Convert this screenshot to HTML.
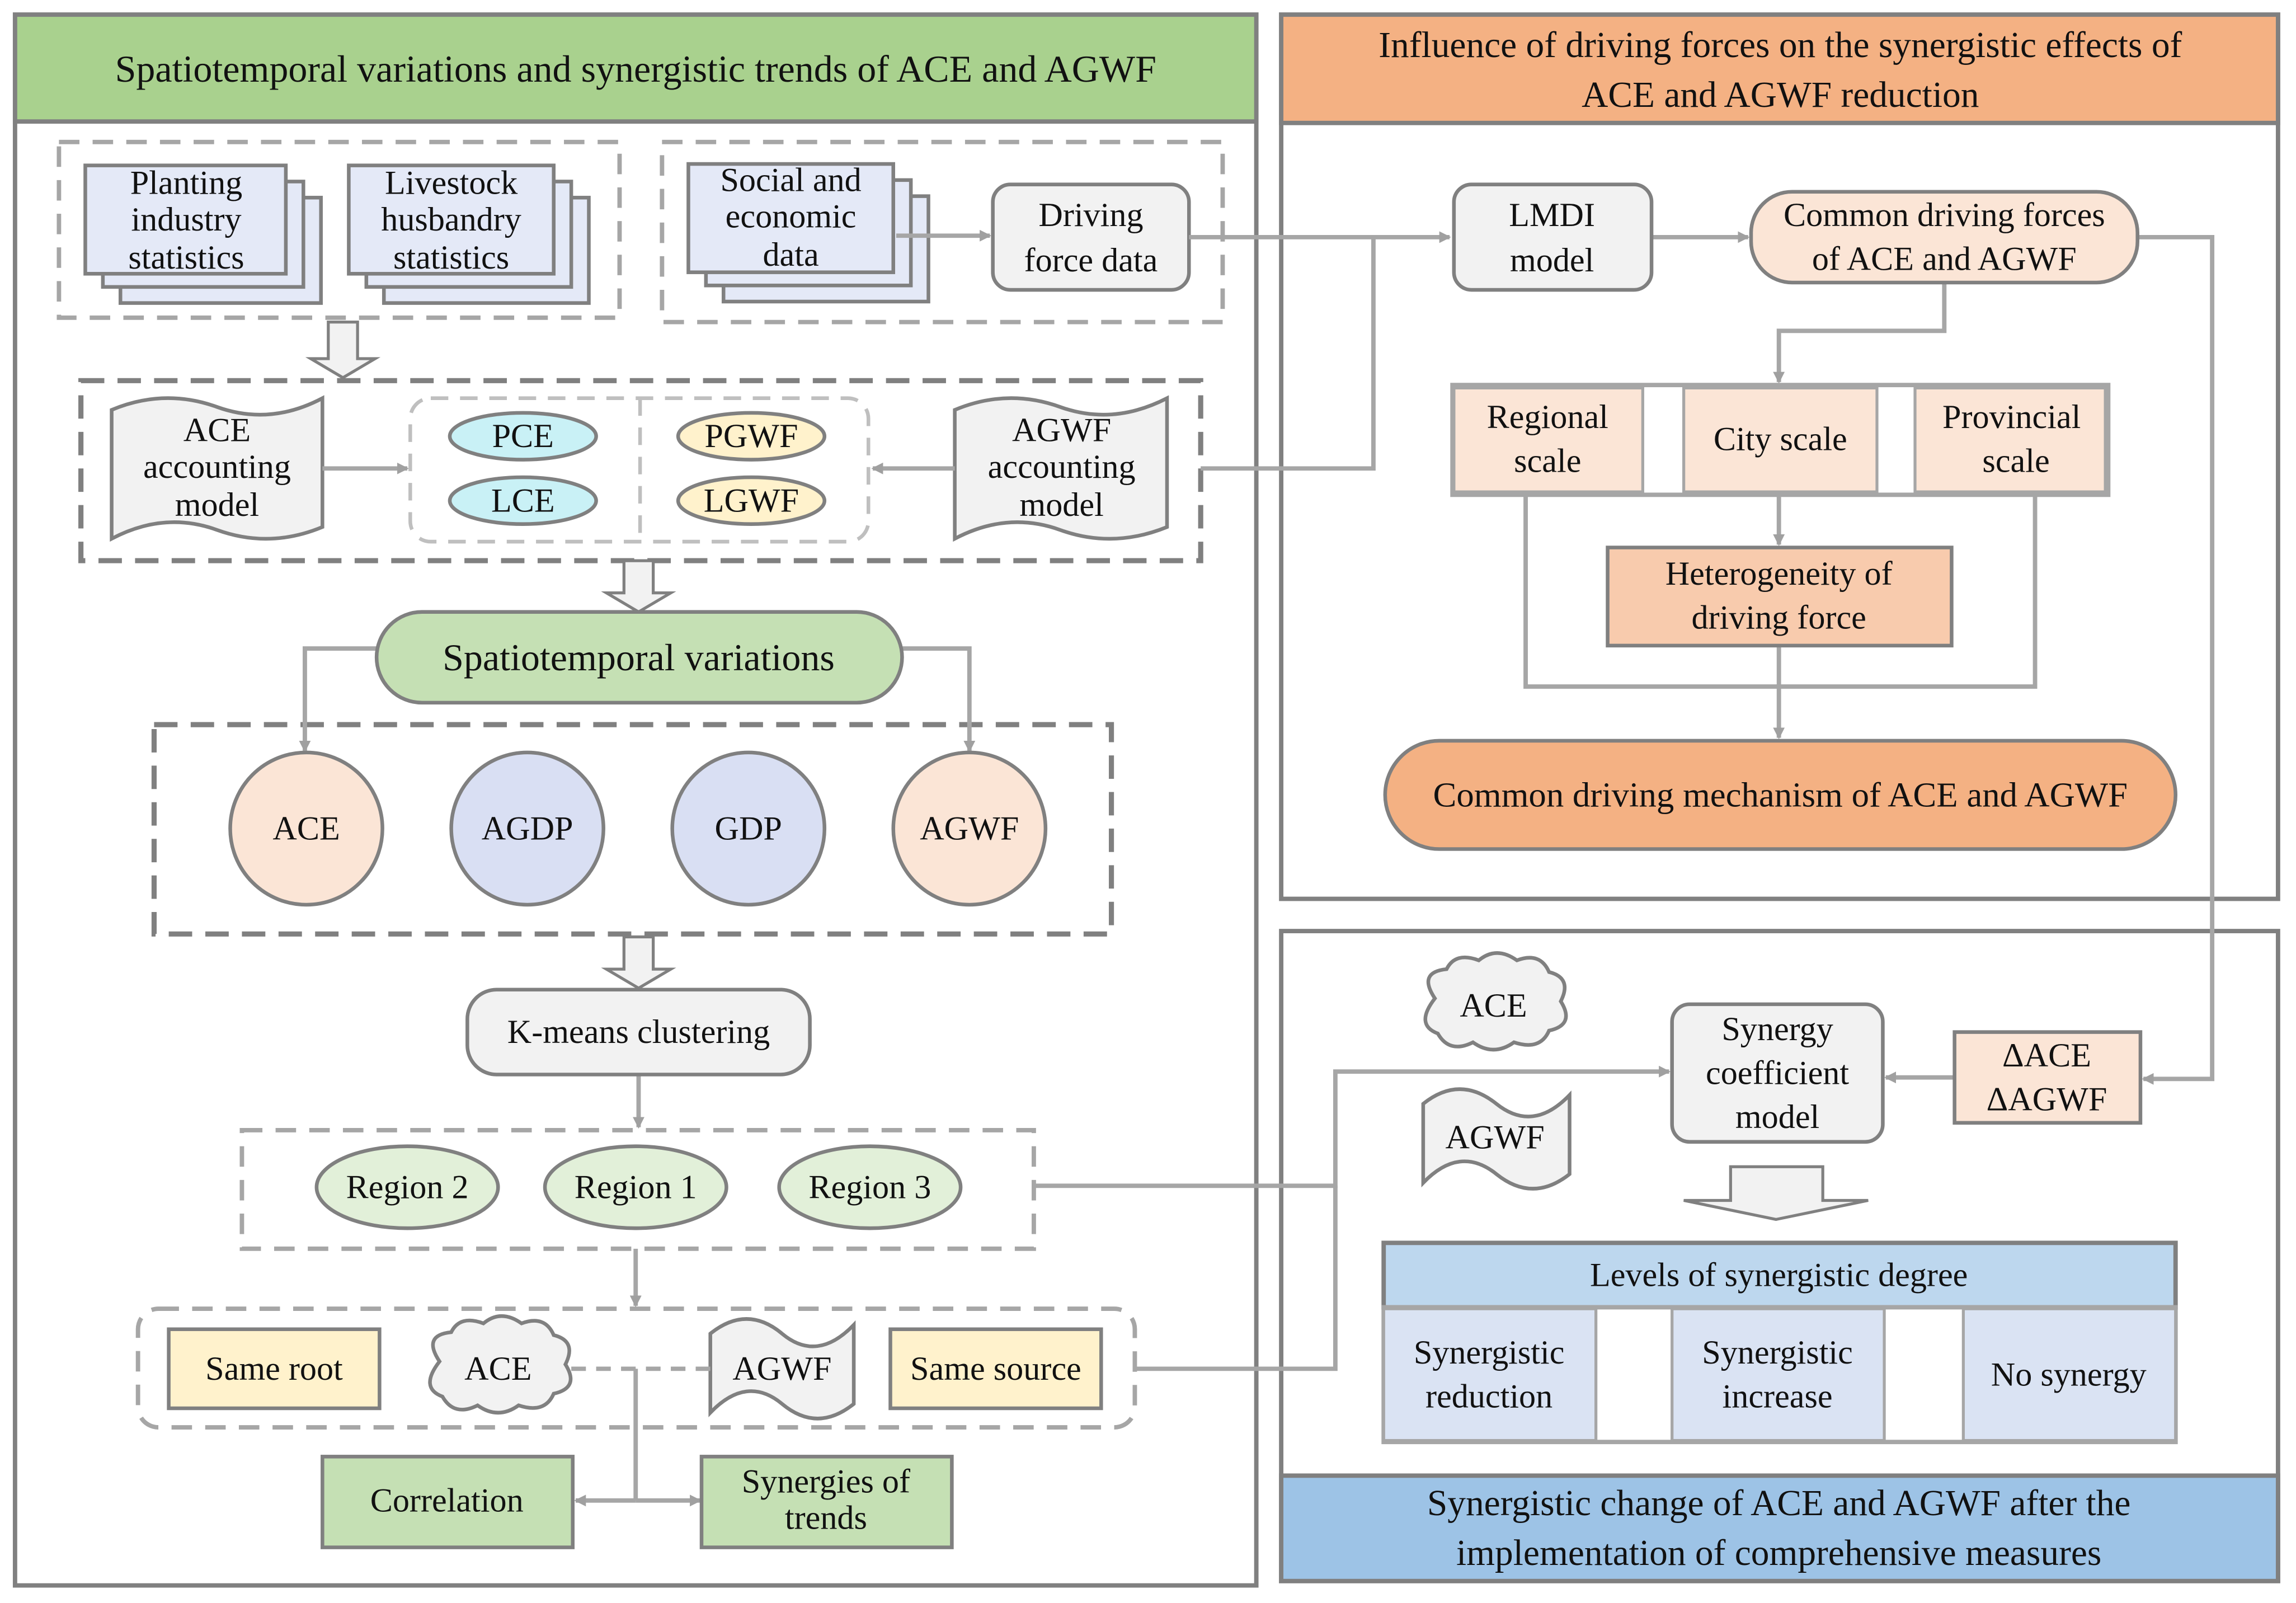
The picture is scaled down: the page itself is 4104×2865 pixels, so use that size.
<!DOCTYPE html>
<html><head><meta charset="utf-8"><style>
html,body{margin:0;padding:0;background:#fff}
svg{display:block}
svg text{font-family:"Liberation Serif","Times New Roman",serif !important;fill:#111;text-anchor:middle;dominant-baseline:central}
</style></head><body>
<svg width="4104" height="2865" viewBox="0 0 1568 1095" xmlns="http://www.w3.org/2000/svg" font-family="Liberation Serif, serif">
<defs>
<marker id="a" markerWidth="8" markerHeight="8" refX="7" refY="4" orient="auto" markerUnits="userSpaceOnUse"><path d="M0,0 L8,4 L0,8 z" fill="#a0a0a0"/></marker>
</defs>
<rect width="1568" height="1095" fill="#fff"/>
<rect x="10" y="10" width="848" height="1073" fill="#fff" stroke="#808080" stroke-width="3"/>
<rect x="10" y="10" width="848" height="73" fill="#a9d18e" stroke="#808080" stroke-width="3"/>
<text x="434" y="47" font-size="26" font-family="Liberation Serif, serif">Spatiotemporal variations and synergistic trends of ACE and AGWF</text>
<rect x="875" y="10" width="681" height="604" fill="#fff" stroke="#808080" stroke-width="3"/>
<rect x="875" y="10" width="681" height="74" fill="#f4b183" stroke="#808080" stroke-width="3"/>
<text x="1216" y="31" font-size="25" font-family="Liberation Serif, serif">Influence of driving forces on the synergistic effects of</text>
<text x="1216" y="65" font-size="25" font-family="Liberation Serif, serif">ACE and AGWF reduction</text>
<rect x="875" y="636" width="681" height="444" fill="#fff" stroke="#808080" stroke-width="3"/>
<rect x="875" y="1008" width="681" height="72" fill="#9dc3e6" stroke="#808080" stroke-width="3"/>
<text x="1215" y="1027" font-size="25" font-family="Liberation Serif, serif">Synergistic change of ACE and AGWF after the</text>
<text x="1215" y="1061" font-size="25" font-family="Liberation Serif, serif">implementation of comprehensive measures</text>

<g fill="none" stroke="#a6a6a6" stroke-width="3" stroke-dasharray="14,9">
<rect x="40" y="97" width="383" height="120"/>
<rect x="452" y="97" width="383" height="123"/>
<rect x="165" y="772" width="541" height="81"/>
<rect x="94" y="894" width="681" height="81" rx="14"/>
</g>
<g fill="none" stroke="#808080" stroke-width="3.5" stroke-dasharray="16,9">
<rect x="55" y="260" width="765" height="123"/>
<rect x="105" y="495" width="654" height="143"/>
</g>
<g fill="none" stroke="#bfbfbf" stroke-width="2.5" stroke-dasharray="12,8">
<rect x="280" y="272" width="313" height="98" rx="14"/>
<line x1="437" y1="272" x2="437" y2="370"/>
</g>

<g stroke="#808080" stroke-width="2.5" fill="#e4e9f7">
<rect x="82" y="135" width="137" height="72"/><rect x="70" y="124" width="137" height="72"/><rect x="58" y="113" width="137" height="74"/>
<rect x="262" y="135" width="140" height="72"/><rect x="250" y="124" width="140" height="72"/><rect x="238" y="113" width="140" height="74"/>
<rect x="494" y="134" width="140" height="72"/><rect x="482" y="123" width="140" height="72"/><rect x="470" y="112" width="140" height="74"/>
</g>
<g font-size="23" font-family="Liberation Serif, serif">
<text x="127" y="125">Planting</text><text x="127" y="150">industry</text><text x="127" y="176">statistics</text>
<text x="308" y="125">Livestock</text><text x="308" y="150">husbandry</text><text x="308" y="176">statistics</text>
<text x="540" y="123">Social and</text><text x="540" y="148">economic</text><text x="540" y="174">data</text>
</g>
<rect x="678" y="126" width="134" height="72" rx="12" fill="#f2f2f2" stroke="#808080" stroke-width="2.5"/>
<g font-size="23" font-family="Liberation Serif, serif"><text x="745" y="147">Driving</text><text x="745" y="178">force data</text></g>

<g fill="#f2f2f2" stroke="#808080" stroke-width="2">
<path d="M224,220 H244 V245 H256 L234,258 L212,245 H224 Z"/>
<path d="M426,383 H446 V405 H458 L436,418 L414,405 H426 Z"/>
<path d="M426,640 H446 V662 H458 L436,675 L414,662 H426 Z"/>
<path d="M1182,797 H1245 V820 H1276 L1213,833 L1150,820 H1182 Z"/>
</g>

<g fill="#f2f2f2" stroke="#808080" stroke-width="2.5">
<path d="M76,280 Q112,265 148,278 T220,272 V360 Q184,375 148,362 T76,368 Z"/>
<path d="M652,280 Q688,265 724,278 T797,272 V360 Q760,375 724,362 T652,368 Z"/>
<path d="M972,754 Q997,734 1022,754 T1072,748 V802 Q1047,822 1022,802 T972,808 Z"/>
<path d="M485,911 Q510,891 534,911 T583,905 V959 Q558,979 534,959 T485,965 Z"/>
</g>
<g font-size="23" font-family="Liberation Serif, serif">
<text x="148" y="294">ACE</text><text x="148" y="319">accounting</text><text x="148" y="345">model</text>
<text x="725" y="294">AGWF</text><text x="725" y="319">accounting</text><text x="725" y="345">model</text>
<text x="1021" y="777">AGWF</text><text x="534" y="935">AGWF</text>
</g>
<g stroke="#808080" stroke-width="2.5">
<ellipse cx="357" cy="298" rx="50" ry="16" fill="#c9f1f6"/>
<ellipse cx="357" cy="342" rx="50" ry="16" fill="#c9f1f6"/>
<ellipse cx="513" cy="298" rx="50" ry="16" fill="#fff2cc"/>
<ellipse cx="513" cy="342" rx="50" ry="16" fill="#fff2cc"/>
</g>
<g font-size="23" font-family="Liberation Serif, serif"><text x="357" y="298">PCE</text><text x="357" y="342">LCE</text><text x="513" y="298">PGWF</text><text x="513" y="342">LGWF</text></g>

<g fill="none" stroke="#a6a6a6" stroke-width="3">
<line x1="220" y1="320" x2="278" y2="320" marker-end="url(#a)"/>
<line x1="652" y1="320" x2="596" y2="320" marker-end="url(#a)"/>
<line x1="612" y1="161" x2="676" y2="161" marker-end="url(#a)"/>
<line x1="812" y1="162" x2="990" y2="162" marker-end="url(#a)"/>
<polyline points="820,320 938,320 938,162"/>
<polyline points="257,443 208,443 208,513" marker-end="url(#a)"/>
<polyline points="616,443 662,443 662,513" marker-end="url(#a)"/>
<line x1="436" y1="734" x2="436" y2="770" marker-end="url(#a)"/>
<line x1="434" y1="853" x2="434" y2="892" marker-end="url(#a)"/>
<polyline points="706,810 912,810 912,732 1140,732" marker-end="url(#a)"/>
<polyline points="775,935 912,935 912,810"/>
<line x1="434" y1="935" x2="434" y2="1025"/>
<line x1="434" y1="1025" x2="393" y2="1025" marker-end="url(#a)"/>
<line x1="434" y1="1025" x2="478" y2="1025" marker-end="url(#a)"/>
<line x1="1128" y1="162" x2="1194" y2="162" marker-end="url(#a)"/>
<polyline points="1460,162 1511,162 1511,737 1464,737" marker-end="url(#a)"/>
<line x1="1335" y1="736" x2="1288" y2="736" marker-end="url(#a)"/>
<polyline points="1328,193 1328,226 1215,226 1215,261" marker-end="url(#a)"/>
<line x1="1215" y1="338" x2="1215" y2="372" marker-end="url(#a)"/>
<polyline points="1042,338 1042,469 1390,469 1390,338"/>
<line x1="1215" y1="441" x2="1215" y2="504" marker-end="url(#a)"/>
</g>
<line x1="390" y1="935" x2="485" y2="935" stroke="#a6a6a6" stroke-width="3" stroke-dasharray="10,7"/>

<rect x="257" y="418" width="359" height="62" rx="31" fill="#c5e0b4" stroke="#808080" stroke-width="2.5"/>
<text x="436" y="449" font-size="26" font-family="Liberation Serif, serif">Spatiotemporal variations</text>
<g stroke="#808080" stroke-width="2.5">
<circle cx="209" cy="566" r="52" fill="#fbe5d6"/>
<circle cx="360" cy="566" r="52" fill="#d9dff3"/>
<circle cx="511" cy="566" r="52" fill="#d9dff3"/>
<circle cx="662" cy="566" r="52" fill="#fbe5d6"/>
</g>
<g font-size="23" font-family="Liberation Serif, serif"><text x="209" y="566">ACE</text><text x="360" y="566">AGDP</text><text x="511" y="566">GDP</text><text x="662" y="566">AGWF</text></g>
<rect x="319" y="676" width="234" height="58" rx="20" fill="#f2f2f2" stroke="#808080" stroke-width="2.5"/>
<text x="436" y="705" font-size="23" font-family="Liberation Serif, serif">K-means clustering</text>
<g stroke="#808080" stroke-width="2.5" fill="#e2f0d9">
<ellipse cx="278" cy="811" rx="62" ry="28"/><ellipse cx="434" cy="811" rx="62" ry="28"/><ellipse cx="594" cy="811" rx="62" ry="28"/>
</g>
<g font-size="23" font-family="Liberation Serif, serif"><text x="278" y="811">Region 2</text><text x="434" y="811">Region 1</text><text x="594" y="811">Region 3</text></g>

<g stroke="#808080" stroke-width="2.5">
<rect x="115" y="908" width="144" height="54" fill="#fff2cc"/>
<rect x="608" y="908" width="144" height="54" fill="#fff2cc"/>
<rect x="220" y="995" width="171" height="62" fill="#c5e0b4"/>
<rect x="479" y="995" width="171" height="62" fill="#c5e0b4"/>
</g>
<g font-size="23" font-family="Liberation Serif, serif"><text x="187" y="935">Same root</text><text x="680" y="935">Same source</text>
<text x="305" y="1025">Correlation</text><text x="564" y="1012">Synergies of</text><text x="564" y="1037">trends</text></g>

<g fill="#f2f2f2" stroke="#808080" stroke-width="2.5">
<path d="M300,930 Q288,912 308,910 Q314,898 330,904 Q342,894 356,904 Q372,898 378,912 Q394,916 386,932 Q396,948 378,952 Q372,966 354,960 Q340,970 326,960 Q310,968 302,954 Q286,948 300,930 Z"/>
<path d="M980,682 Q968,664 988,662 Q994,650 1010,656 Q1022,646 1036,656 Q1052,650 1058,664 Q1074,668 1066,684 Q1076,700 1058,704 Q1052,718 1034,712 Q1020,722 1006,712 Q990,720 982,706 Q966,700 980,682 Z"/>
</g>
<g font-size="23" font-family="Liberation Serif, serif"><text x="340" y="935">ACE</text><text x="1020" y="687">ACE</text></g>

<rect x="993" y="126" width="135" height="72" rx="12" fill="#f2f2f2" stroke="#808080" stroke-width="2.5"/>
<g font-size="23" font-family="Liberation Serif, serif"><text x="1060" y="147">LMDI</text><text x="1060" y="178">model</text></g>
<rect x="1196" y="131" width="264" height="62" rx="28" fill="#fbe5d6" stroke="#808080" stroke-width="2.5"/>
<g font-size="23" font-family="Liberation Serif, serif"><text x="1328" y="147">Common driving forces</text><text x="1328" y="177">of ACE and AGWF</text></g>
<rect x="992" y="263" width="448" height="75" fill="#fff" stroke="#a6a6a6" stroke-width="3"/>
<g fill="#fbe5d6" stroke="#a6a6a6" stroke-width="2">
<rect x="993" y="265" width="129" height="71"/><rect x="1150" y="265" width="132" height="71"/><rect x="1308" y="265" width="130" height="71"/>
</g>
<g font-size="23" font-family="Liberation Serif, serif"><text x="1057" y="285">Regional</text><text x="1057" y="315">scale</text><text x="1216" y="300">City scale</text><text x="1374" y="285">Provincial</text><text x="1377" y="315">scale</text></g>
<rect x="1098" y="374" width="235" height="67" fill="#f8cbad" stroke="#808080" stroke-width="2.5"/>
<g font-size="23" font-family="Liberation Serif, serif"><text x="1215" y="392">Heterogeneity of</text><text x="1215" y="422">driving force</text></g>
<rect x="946" y="506" width="540" height="74" rx="37" fill="#f4b183" stroke="#808080" stroke-width="2.5"/>
<text x="1216" y="543" font-size="24" font-family="Liberation Serif, serif">Common driving mechanism of ACE and AGWF</text>

<rect x="1142" y="686" width="144" height="94" rx="12" fill="#f2f2f2" stroke="#808080" stroke-width="2.5"/>
<g font-size="23" font-family="Liberation Serif, serif"><text x="1214" y="703">Synergy</text><text x="1214" y="733">coefficient</text><text x="1214" y="763">model</text></g>
<rect x="1335" y="705" width="127" height="62" fill="#fbe5d6" stroke="#808080" stroke-width="2.5"/>
<g font-size="23" font-family="Liberation Serif, serif"><text x="1398" y="721">ΔACE</text><text x="1398" y="751">ΔAGWF</text></g>
<rect x="945" y="849" width="541" height="44" fill="#bdd7ee" stroke="#808080" stroke-width="3"/>
<text x="1215" y="871" font-size="23" font-family="Liberation Serif, serif">Levels of synergistic degree</text>
<rect x="945" y="893" width="541" height="92" fill="#fff" stroke="#a6a6a6" stroke-width="3"/>
<g fill="#dae3f3" stroke="#a6a6a6" stroke-width="2">
<rect x="945" y="894" width="145" height="90"/><rect x="1142" y="894" width="145" height="90"/><rect x="1341" y="894" width="145" height="90"/>
</g>
<g font-size="23" font-family="Liberation Serif, serif"><text x="1017" y="924">Synergistic</text><text x="1017" y="954">reduction</text><text x="1214" y="924">Synergistic</text><text x="1214" y="954">increase</text><text x="1413" y="939">No synergy</text></g>
</svg>
</body></html>
